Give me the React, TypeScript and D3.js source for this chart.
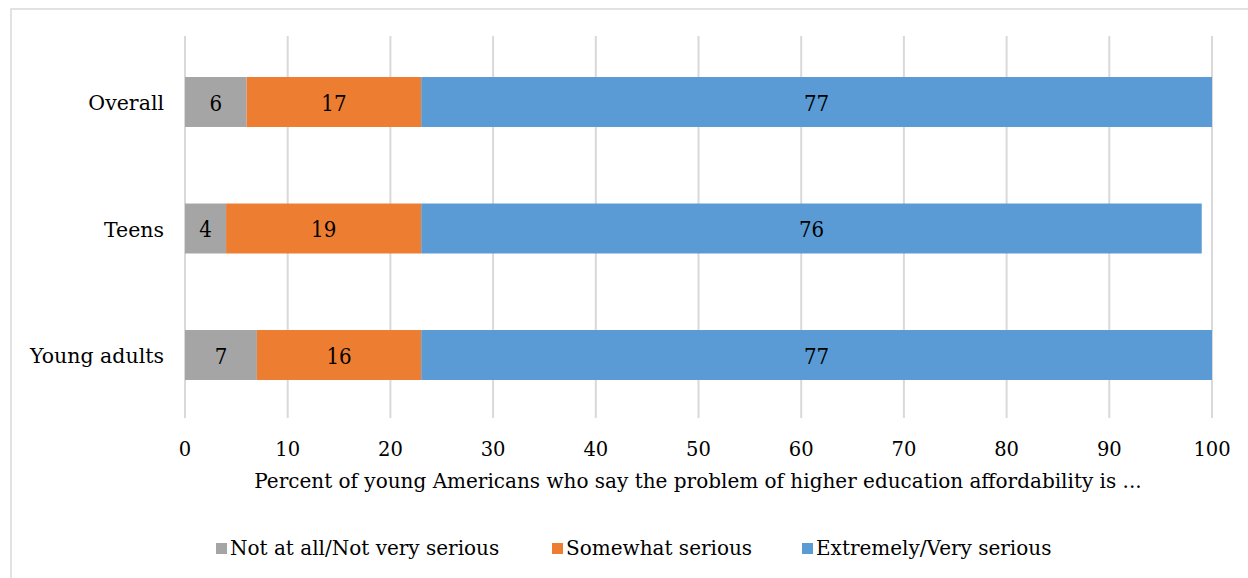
import React from "react";
import * as d3 from "d3";

const categories = ["Overall", "Teens", "Young adults"];
const notSerious = [6, 4, 7];
const somewhatSerious = [17, 19, 16];
const verySerious = [77, 76, 77];
const seriesNames = ["Not at all/Not very serious", "Somewhat serious", "Extremely/Very serious"];
const seriesColors = ["#A5A5A5", "#ED7D31", "#5B9BD5"];
const xTicks = [0, 10, 20, 30, 40, 50, 60, 70, 80, 90, 100];
const axisTitle = "Percent of young Americans who say the problem of higher education affordability is ...";

const W = 1248, H = 578;
const slab = "'DejaVu Serif', serif";
const slabCond = "'DejaVu Serif Condensed', 'DejaVu Serif', serif";

export default function App() {
  const x = d3.scaleLinear().domain([0, 100]).range([185, 1212]);
  const y = d3.scaleBand().domain(categories).range([38.75, 418.25]).paddingInner(0.605).paddingOuter(0.3025);
  const series = [notSerious, somewhatSerious, verySerious];
  const rows = categories.map((c, i) => {
    let acc = 0;
    return series.map((s, k) => {
      const v = s[i];
      const seg = { cat: c, k, v, x0: acc, x1: acc + v };
      acc += v;
      return seg;
    });
  });
  const legendX = [216, 552, 802];
  return (
    <svg width={W} height={H} style={{ position: "absolute", left: 0, top: 0, background: "#fff" }}>
      <rect x={11} y={9} width={W} height={H} fill="#fff" stroke="#D9D9D9" strokeWidth={1.5} />
      {xTicks.map((t) => (
        <line key={t} x1={x(t)} x2={x(t)} y1={36} y2={418} stroke="#D9D9D9" strokeWidth={2} />
      ))}
      {rows.map((r, i) =>
        r.map((s) => (
          <g key={`${i}-${s.k}`}>
            <rect x={x(s.x0)} y={y(s.cat)} width={x(s.x1) - x(s.x0)} height={y.bandwidth()} fill={seriesColors[s.k]} />
            <text x={(x(s.x0) + x(s.x1)) / 2} y={y(s.cat)! + y.bandwidth() / 2 + 8.5} textAnchor="middle" fontFamily={slabCond} fontSize={22} fill="#000">{s.v}</text>
          </g>
        ))
      )}
      {categories.map((c) => (
        <text key={c} x={164} y={y(c)! + y.bandwidth() / 2 + 8} textAnchor="end" fontFamily={slab} fontSize={20.5} fill="#000">{c}</text>
      ))}
      {xTicks.map((t) => (
        <text key={t} x={x(t)} y={456} textAnchor="middle" fontFamily={slab} fontSize={19.5} fill="#000">{t}</text>
      ))}
      <text x={698} y={488} textAnchor="middle" fontFamily={slab} fontSize={20} fill="#000">{axisTitle}</text>
      {seriesNames.map((n, k) => (
        <g key={n}>
          <rect x={legendX[k]} y={543} width={11} height={11} fill={seriesColors[k]} />
          <text x={legendX[k] + 14} y={555} fontFamily={slab} fontSize={20} fill="#000">{n}</text>
        </g>
      ))}
    </svg>
  );
}
